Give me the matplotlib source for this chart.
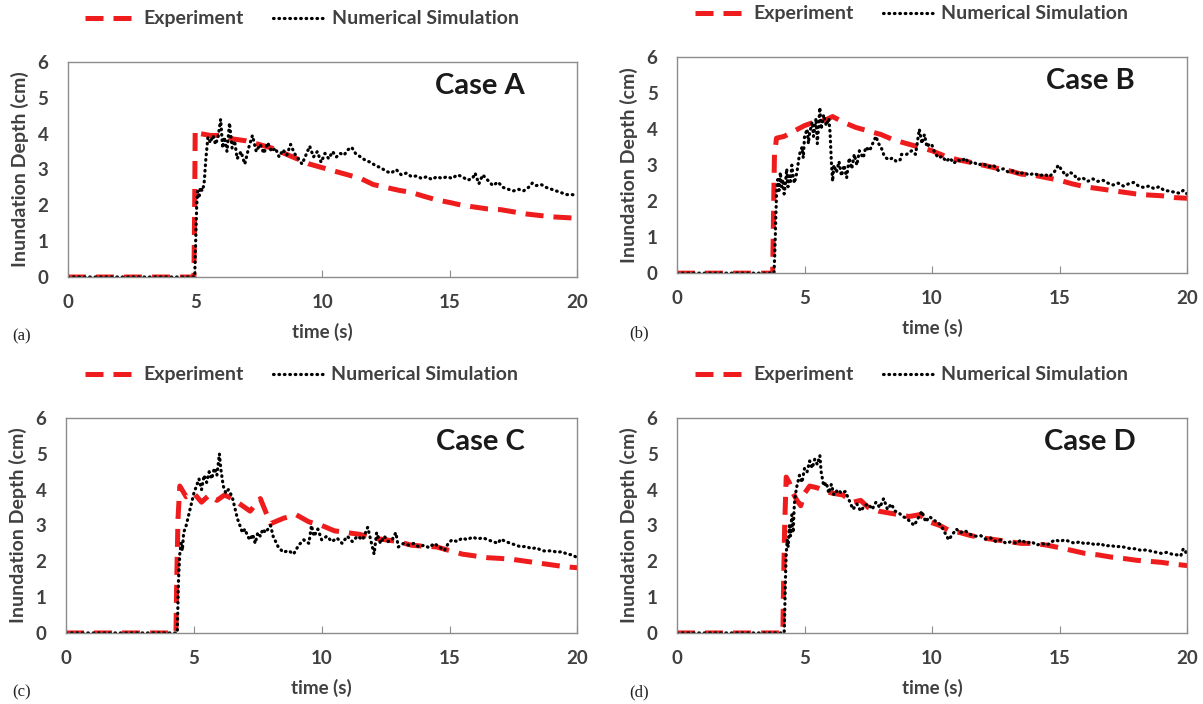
import matplotlib
matplotlib.use("Agg")
import matplotlib.pyplot as plt

plt.rcParams['font.family'] = ['Lato', 'DejaVu Sans']

# ---- Case A ----
exp_a_t = [0, 4.95, 4.98, 5.0, 5.2, 5.6, 6.0, 6.5, 7.0, 7.5, 8.0, 8.5, 9.0, 9.5, 10.0, 10.5, 11.0, 11.5,
           12.0, 12.5, 13.0, 13.5, 14.0, 14.5, 15.0, 15.5, 16.0, 16.5, 17.0, 17.5, 18.0, 18.5, 19.0, 19.5, 20.0]
exp_a_h = [0, 0, 2.0, 4.1, 4.0, 3.95, 3.95, 3.85, 3.8, 3.7, 3.6, 3.45, 3.3, 3.15, 3.05, 2.95, 2.85, 2.75,
           2.58, 2.5, 2.42, 2.36, 2.25, 2.15, 2.08, 2.0, 1.95, 1.9, 1.88, 1.82, 1.76, 1.72, 1.68, 1.66, 1.64]
sim_a_t = [0, 4.98, 5.02, 5.06, 5.1, 5.15, 5.2, 5.28, 5.35, 5.42, 5.5, 5.6, 5.7, 5.8, 5.9, 6.0, 6.08, 6.15,
           6.25, 6.35, 6.45, 6.55, 6.65, 6.8, 6.95, 7.1, 7.25, 7.4, 7.55, 7.7, 7.85, 8.0, 8.15, 8.3, 8.45,
           8.6, 8.75, 8.9, 9.05, 9.2, 9.35, 9.5, 9.65, 9.8, 9.95, 10.1, 10.25, 10.4, 10.55, 10.7, 10.85,
           11.0, 11.15, 11.3, 11.5, 11.7, 11.9, 12.1, 12.3, 12.5, 12.7, 12.9, 13.1, 13.3, 13.5, 13.7, 13.9,
           14.1, 14.3, 14.5, 14.7, 14.9, 15.1, 15.3, 15.5, 15.7, 15.9, 16.0, 16.15, 16.3, 16.5, 16.7, 16.9,
           17.1, 17.3, 17.5, 17.7, 17.9, 18.1, 18.25, 18.4, 18.6, 18.8, 19.0, 19.2, 19.4, 19.6, 19.8, 20.0]
sim_a_h = [0, 0, 1.0, 2.0, 2.4, 2.2, 2.5, 2.4, 2.6, 3.3, 3.9, 3.75, 3.95, 3.7, 3.9, 4.4, 3.6, 3.9,
           3.5, 4.3, 3.6, 3.8, 3.3, 3.5, 3.15, 3.6, 3.95, 3.5, 3.7, 3.45, 3.75, 3.5, 3.6, 3.35, 3.55,
           3.4, 3.7, 3.45, 3.3, 3.15, 3.4, 3.65, 3.35, 3.5, 3.2, 3.45, 3.3, 3.5, 3.35, 3.45, 3.4,
           3.55, 3.62, 3.45, 3.35, 3.25, 3.2, 3.1, 3.05, 2.95, 2.9, 3.0, 2.85, 2.9, 2.8, 2.82, 2.75,
           2.8, 2.72, 2.8, 2.75, 2.8, 2.75, 2.85, 2.8, 2.7, 2.75, 2.9, 2.6, 2.85, 2.7, 2.55, 2.65,
           2.5, 2.45, 2.4, 2.45, 2.4, 2.5, 2.62, 2.55, 2.58, 2.5, 2.45, 2.4, 2.35, 2.3, 2.3, 2.28]

# ---- Case B ----
exp_b_t = [0, 3.75, 3.78, 3.82, 3.9, 4.2, 4.6, 5.0, 5.4, 5.8, 6.1, 6.5, 7.0, 7.5, 8.0, 8.5, 9.0, 9.5, 10.0,
           10.5, 11.0, 11.5, 12.0, 12.5, 13.0, 13.5, 14.0, 14.5, 15.0, 15.5, 16.0, 16.5, 17.0, 17.5, 18.0,
           18.5, 19.0, 19.5, 20.0]
exp_b_h = [0, 0, 1.5, 3.3, 3.75, 3.8, 3.95, 4.1, 4.2, 4.25, 4.35, 4.2, 4.05, 3.95, 3.85, 3.7, 3.6, 3.5, 3.4,
           3.25, 3.15, 3.08, 3.0, 2.92, 2.85, 2.75, 2.72, 2.65, 2.58, 2.48, 2.4, 2.35, 2.3, 2.25, 2.2,
           2.17, 2.15, 2.1, 2.08]
sim_b_t = [0, 3.8, 3.83, 3.87, 3.9, 3.95, 4.0, 4.05, 4.1, 4.15, 4.2, 4.25, 4.3, 4.35, 4.4, 4.45, 4.5, 4.55,
           4.6, 4.7, 4.8, 4.9, 4.95, 5.0, 5.1, 5.15, 5.2, 5.3, 5.35, 5.45, 5.5, 5.6, 5.65, 5.75, 5.85, 5.95,
           6.0, 6.05, 6.1, 6.15, 6.25, 6.35, 6.45, 6.55, 6.65, 6.75, 6.85, 6.95, 7.05, 7.15, 7.3, 7.4, 7.55,
           7.7, 7.8, 7.9, 8.0, 8.1, 8.2, 8.3, 8.45, 8.6, 8.75, 8.8, 9.0, 9.2, 9.35, 9.5, 9.6, 9.7, 9.8, 9.9,
           10.0, 10.1, 10.25, 10.4, 10.55, 10.7, 10.85, 11.0, 11.15, 11.3, 11.45, 11.6, 11.8, 12.0, 12.2,
           12.4, 12.6, 12.8, 13.0, 13.2, 13.4, 13.6, 13.8, 14.0, 14.2, 14.4, 14.6, 14.8, 14.95, 15.1, 15.25,
           15.4, 15.55, 15.7, 15.9, 16.1, 16.3, 16.5, 16.7, 16.9, 17.1, 17.3, 17.5, 17.7, 17.9, 18.1, 18.3,
           18.5, 18.7, 18.9, 19.1, 19.3, 19.5, 19.7, 19.85, 20.0]
sim_b_h = [0, 0, 0.5, 1.5, 2.2, 2.6, 2.3, 2.8, 2.4, 2.6, 2.2, 2.5, 2.9, 2.4, 2.7, 2.55, 3.0, 2.7,
           2.5, 2.8, 3.3, 3.5, 3.2, 3.8, 4.0, 3.6, 3.9, 4.2, 3.8, 4.3, 3.6, 4.6, 4.0, 4.4, 4.1, 4.3,
           3.9, 3.1, 2.55, 3.0, 2.8, 3.1, 2.7, 3.0, 2.65, 3.2, 2.9, 3.3, 3.0, 3.4, 3.2, 3.5, 3.4,
           3.65, 3.8, 3.6, 3.5, 3.3, 3.2, 3.15, 3.2, 3.1, 3.15, 3.3, 3.3, 3.4, 3.3, 4.0, 3.6, 3.85, 3.5, 3.6,
           3.55, 3.35, 3.2, 3.25, 3.1, 3.2, 3.05, 3.15, 3.1, 3.2, 3.05, 3.1, 3.0, 3.05, 2.95,
           3.0, 2.85, 2.9, 2.8, 2.85, 2.75, 2.8, 2.72, 2.78, 2.7, 2.75, 2.68, 2.82, 3.0, 2.85, 2.7,
           2.8, 2.75, 2.6, 2.65, 2.55, 2.62, 2.55, 2.58, 2.5, 2.45, 2.5, 2.42, 2.48, 2.52, 2.42, 2.38,
           2.42, 2.35, 2.4, 2.3, 2.28, 2.25, 2.22, 2.3, 2.2]

# ---- Case C ----
exp_c_t = [0, 4.3, 4.33, 4.38, 4.45, 4.7, 5.0, 5.3, 5.6, 5.9, 6.2, 6.5, 6.8, 7.2, 7.6, 8.0, 8.5, 9.0, 9.5,
           10.0, 10.5, 11.0, 11.5, 12.0, 12.5, 13.0, 13.5, 14.0, 14.5, 15.0, 15.5, 16.0, 16.5, 17.0, 17.5,
           18.0, 18.5, 19.0, 19.5, 20.0]
exp_c_h = [0, 0, 1.5, 3.2, 4.1, 3.8, 3.9, 3.65, 3.85, 3.7, 3.85, 3.75, 3.6, 3.4, 3.75, 3.05, 3.2, 3.3, 3.1,
           3.0, 2.85, 2.8, 2.75, 2.65, 2.6, 2.55, 2.45, 2.42, 2.4, 2.3, 2.2, 2.15, 2.1, 2.08, 2.05,
           2.0, 1.95, 1.9, 1.85, 1.82]
sim_c_t = [0, 4.35, 4.4, 4.45, 4.5, 4.55, 4.6, 4.7, 4.8, 4.9, 5.0, 5.1, 5.2, 5.3, 5.4, 5.5, 5.6, 5.7, 5.8,
           5.9, 6.0, 6.05, 6.15, 6.25, 6.35, 6.5, 6.6, 6.7, 6.8, 6.9, 7.0, 7.1, 7.2, 7.3, 7.4, 7.5, 7.6, 7.7,
           7.8, 8.0, 8.1, 8.3, 8.5, 8.7, 8.9, 9.1, 9.3, 9.5, 9.6, 9.7, 9.85, 10.0, 10.2, 10.4, 10.6, 10.8,
           11.0, 11.2, 11.4, 11.6, 11.8, 11.95, 12.05, 12.15, 12.3, 12.45, 12.6, 12.75, 12.9, 13.0, 13.2,
           13.4, 13.6, 13.8, 14.0, 14.2, 14.4, 14.6, 14.8, 14.95, 15.1, 15.3, 15.5, 15.7, 15.9, 16.1, 16.3,
           16.5, 16.7, 16.9, 17.0, 17.2, 17.4, 17.6, 17.8, 18.0, 18.2, 18.4, 18.6, 18.8, 19.0, 19.2, 19.4,
           19.6, 19.8, 20.0]
sim_c_h = [0, 0, 1.5, 2.2, 2.5, 2.3, 2.8, 3.0, 3.3, 3.6, 3.9, 4.1, 4.3, 4.0, 4.4, 4.2, 4.5, 4.3, 4.6,
           4.4, 5.0, 4.6, 4.1, 3.9, 4.0, 3.8, 3.5, 3.2, 3.0, 2.8, 2.9, 2.7, 2.6, 2.75, 2.5, 2.8, 2.7, 2.9,
           2.8, 3.0, 2.7, 2.4, 2.25, 2.3, 2.2, 2.45, 2.6, 2.5, 3.0, 2.7, 2.9, 2.6, 2.7, 2.55, 2.65, 2.5,
           2.7, 2.55, 2.7, 2.6, 2.95, 2.5, 2.2, 2.8, 2.5, 2.7, 2.55, 2.6, 2.8, 2.4, 2.5,
           2.45, 2.5, 2.4, 2.45, 2.38, 2.5, 2.4, 2.3, 2.5, 2.6, 2.55, 2.65, 2.6, 2.68, 2.62, 2.66,
           2.6, 2.55, 2.5, 2.62, 2.55, 2.5, 2.45, 2.4, 2.42, 2.35, 2.38, 2.3, 2.28, 2.3, 2.25, 2.27,
           2.2, 2.18, 2.1]

# ---- Case D ----
exp_d_t = [0, 4.15, 4.18, 4.22, 4.28, 4.4, 4.55, 4.7, 4.85, 5.0, 5.2, 5.5, 5.8, 6.1, 6.5, 6.9, 7.2, 7.5,
           7.9, 8.3, 8.7, 9.1, 9.5, 9.9, 10.3, 10.7, 11.1, 11.5, 12.0, 12.5, 13.0, 13.5, 14.0, 14.5, 15.0,
           15.5, 16.0, 16.5, 17.0, 17.5, 18.0, 18.5, 19.0, 19.5, 20.0]
exp_d_h = [0, 0, 1.5, 3.0, 4.35, 4.2, 3.9, 3.7, 3.55, 3.9, 4.1, 4.05, 3.95, 3.9, 3.85, 3.65, 3.7, 3.5,
           3.4, 3.35, 3.3, 3.25, 3.3, 3.1, 3.0, 2.85, 2.8, 2.72, 2.65, 2.6, 2.55, 2.5, 2.5, 2.45, 2.38,
           2.3, 2.22, 2.18, 2.12, 2.08, 2.03, 2.0, 1.97, 1.92, 1.88]
sim_d_t = [0, 4.2, 4.22, 4.25, 4.28, 4.32, 4.36, 4.4, 4.45, 4.5, 4.55, 4.6, 4.65, 4.7, 4.8, 4.9, 5.0, 5.1,
           5.2, 5.3, 5.4, 5.5, 5.6, 5.65, 5.75, 5.85, 5.95, 6.05, 6.15, 6.3, 6.45, 6.6, 6.75, 6.9, 7.05,
           7.2, 7.35, 7.5, 7.65, 7.8, 7.95, 8.1, 8.25, 8.4, 8.55, 8.7, 8.85, 9.0, 9.15, 9.3, 9.45, 9.6,
           9.75, 9.9, 10.05, 10.2, 10.35, 10.5, 10.65, 10.8, 10.95, 11.1, 11.3, 11.5, 11.7, 11.9, 12.1,
           12.3, 12.5, 12.7, 12.9, 13.1, 13.3, 13.5, 13.7, 13.9, 14.1, 14.3, 14.5, 14.7, 14.85, 15.0, 15.2,
           15.4, 15.6, 15.8, 16.0, 16.2, 16.4, 16.6, 16.8, 17.0, 17.2, 17.4, 17.6, 17.8, 18.0, 18.2, 18.4,
           18.6, 18.8, 19.0, 19.2, 19.4, 19.6, 19.75, 19.85, 19.95, 20.0]
sim_d_h = [0, 0, 0.5, 1.5, 2.2, 2.6, 2.4, 3.0, 2.7, 3.3, 2.8, 3.6, 3.9, 4.1, 4.4, 4.2, 4.6, 4.5,
           4.8, 4.6, 4.85, 4.7, 4.95, 4.5, 4.1, 4.2, 3.9, 4.15, 3.85, 4.0, 3.9, 3.95, 3.7, 3.45, 3.6,
           3.4, 3.55, 3.6, 3.45, 3.65, 3.5, 3.75, 3.45, 3.6, 3.4, 3.35, 3.25, 3.2, 3.1, 3.0, 3.2, 3.4,
           3.1, 3.25, 3.15, 3.1, 3.0, 2.8, 2.6, 2.75, 2.9, 2.8, 2.85, 2.75, 2.7, 2.72, 2.62,
           2.65, 2.55, 2.6, 2.5, 2.55, 2.5, 2.6, 2.5, 2.55, 2.45, 2.5, 2.45, 2.55, 2.6, 2.55, 2.6,
           2.55, 2.5, 2.55, 2.48, 2.52, 2.45, 2.5, 2.42, 2.45, 2.4, 2.42, 2.38, 2.35, 2.35, 2.3, 2.32,
           2.28, 2.25, 2.22, 2.25, 2.2, 2.18, 2.15, 2.35, 2.25, 2.3]

cases = ["Case A", "Case B", "Case C", "Case D"]
tags = ["(a)", "(b)", "(c)", "(d)"]
exp_data = [(exp_a_t, exp_a_h), (exp_b_t, exp_b_h), (exp_c_t, exp_c_h), (exp_d_t, exp_d_h)]
sim_data = [(sim_a_t, sim_a_h), (sim_b_t, sim_b_h), (sim_c_t, sim_c_h), (sim_d_t, sim_d_h)]

# axes rectangles in figure fractions (left, bottom, width, height)
rects = [(0.0565, 0.6065, 0.423, 0.3055),
         (0.5628, 0.612, 0.424, 0.3068),
         (0.0549, 0.1009, 0.425, 0.3054),
         (0.5628, 0.1009, 0.424, 0.3054)]
tag_pos = [(0.010, 0.516), (0.523, 0.521), (0.010, 0.011), (0.523, 0.011)]

fig = plt.figure(figsize=(12.03, 7.04), dpi=100)
grey = '#404040'

for i in range(4):
    ax = fig.add_axes(rects[i])
    et, eh = exp_data[i]
    st, sh = sim_data[i]
    ax.plot(et, eh, color='#ee1c1c', lw=3.6, ls=(0, (3.6, 2.0)), label='Experiment')
    ax.plot(st, sh, color='black', lw=2.3, ls=(0, (0.2, 1.5)), dash_capstyle='round',
            label='Numerical Simulation')
    ax.set_xlim(0, 20)
    ax.set_ylim(0, 6)
    ax.set_xticks([0, 5, 10, 15, 20])
    ax.set_yticks(range(7))
    for s in ax.spines.values():
        s.set_color('#8c8c8c')
        s.set_linewidth(1.0)
    ax.tick_params(axis='x', direction='in', length=5, color='#8c8c8c', pad=12,
                   labelsize=13.5, labelcolor=grey)
    ax.tick_params(axis='y', length=0, pad=14, labelsize=13.5, labelcolor=grey)
    for lab in ax.get_xticklabels() + ax.get_yticklabels():
        lab.set_fontweight('bold')
    ax.set_xlabel('time (s)', fontsize=13.5, fontweight='bold', color=grey, labelpad=9)
    ax.set_ylabel('Inundation Depth (cm)', fontsize=14, fontweight='bold', color=grey, labelpad=6)
    ax.text(0.81, 0.89, cases[i], transform=ax.transAxes, ha='center', va='center',
            fontsize=21, fontweight='bold', color='#1a1a1a')
    leg = ax.legend(loc='center', bbox_to_anchor=(0.46, 1.2), ncol=2, frameon=False,
                    handlelength=2.6, columnspacing=1.5, handletextpad=0.4,
                    prop={'weight': 'bold', 'size': 14})
    for t in leg.get_texts():
        t.set_color(grey)
    fig.text(tag_pos[i][0], tag_pos[i][1], tags[i], family='Liberation Serif',
             fontsize=12, color='#222222')

fig.savefig('out.png', dpi=100)
